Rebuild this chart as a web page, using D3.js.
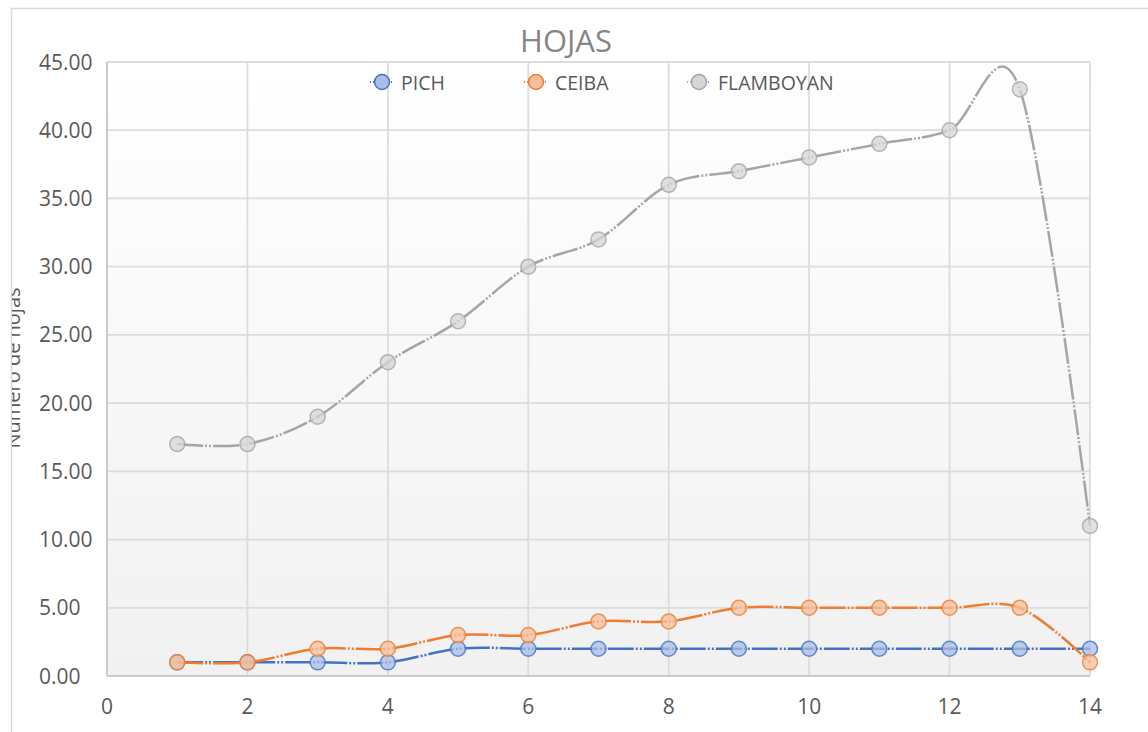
<!DOCTYPE html>
<html>
<head>
<meta charset="utf-8">
<script src="https://cdn.jsdelivr.net/npm/d3@7"></script>
<style>
  body { margin: 0; background: #ffffff; }
  svg { display: block; font-family: "Open Sans", sans-serif; }
</style>
</head>
<body>
<div id="graph"></div>
<script>
var days = [1, 2, 3, 4, 5, 6, 7, 8, 9, 10, 11, 12, 13, 14];
var pich = [1, 1, 1, 1, 2, 2, 2, 2, 2, 2, 2, 2, 2, 2];
var ceiba = [1, 1, 2, 2, 3, 3, 4, 4, 5, 5, 5, 5, 5, 1];
var flamboyan = [17, 17, 19, 23, 26, 30, 32, 36, 37, 38, 39, 40, 43, 11];
var xTicks = [0, 2, 4, 6, 8, 10, 12, 14];
var yTicks = [0, 5, 10, 15, 20, 25, 30, 35, 40, 45];

var series = [
    { name: "PICH", values: pich, color: "#4472C4", fill: "#a9bde6" },
    { name: "CEIBA", values: ceiba, color: "#ED7D31", fill: "#f6bf9b" },
    { name: "FLAMBOYAN", values: flamboyan, color: "#A5A5A5", fill: "#d6d6d6" }
];

var width = 1148, height = 732;
var plotLeft = 107, plotRight = 1090, plotTop = 62, plotBottom = 676;

var svg = d3.select("#graph")
    .append("svg")
    .attr("width", width)
    .attr("height", height);

// chart border
svg.append("rect")
    .attr("x", 11.5).attr("y", 8.5)
    .attr("width", width).attr("height", height)
    .attr("fill", "#ffffff")
    .attr("stroke", "#d9d9d9")
    .attr("stroke-width", 1.5);

var x = d3.scaleLinear().domain([0, 14]).range([plotLeft, plotRight]);
var y = d3.scaleLinear().domain([0, 45]).range([plotBottom, plotTop]);

// plot background gradient
var defs = svg.append("defs");
var grad = defs.append("linearGradient")
    .attr("id", "bg").attr("x1", 0).attr("y1", 0).attr("x2", 0).attr("y2", 1);
grad.append("stop").attr("offset", "0%").attr("stop-color", "#ffffff");
grad.append("stop").attr("offset", "100%").attr("stop-color", "#f1f1f1");

defs.append("clipPath").attr("id", "edge")
    .append("rect").attr("x", 12).attr("y", 0).attr("width", width).attr("height", height);

svg.append("rect")
    .attr("x", plotLeft).attr("y", plotTop)
    .attr("width", plotRight - plotLeft).attr("height", plotBottom - plotTop)
    .attr("fill", "url(#bg)");

// gridlines
svg.append("g").selectAll("line")
    .data(yTicks)
    .enter().append("line")
    .attr("x1", plotLeft).attr("x2", plotRight)
    .attr("y1", function(d) { return y(d); })
    .attr("y2", function(d) { return y(d); })
    .attr("stroke", "#dcdcdc")
    .attr("stroke-width", 1.8);

svg.append("g").selectAll("line")
    .data(xTicks)
    .enter().append("line")
    .attr("x1", function(d) { return x(d); })
    .attr("x2", function(d) { return x(d); })
    .attr("y1", plotTop).attr("y2", plotBottom)
    .attr("stroke", "#dcdcdc")
    .attr("stroke-width", 1.8);

// axis lines
svg.append("line")
    .attr("x1", plotLeft).attr("x2", plotLeft).attr("y1", plotTop).attr("y2", plotBottom)
    .attr("stroke", "#c4c4c4").attr("stroke-width", 1.5);
svg.append("line")
    .attr("x1", plotLeft).attr("x2", plotRight).attr("y1", plotBottom).attr("y2", plotBottom)
    .attr("stroke", "#c4c4c4").attr("stroke-width", 1.5);

// tick labels
svg.append("g").selectAll("text")
    .data(yTicks)
    .enter().append("text")
    .attr("x", 39)
    .attr("y", function(d) { return y(d) + 7.5; })
    .attr("font-size", 21)
    .attr("fill", "#595959")
    .text(function(d) { return d3.format(".2f")(d); });

svg.append("g").selectAll("text")
    .data(xTicks)
    .enter().append("text")
    .attr("x", function(d) { return x(d); })
    .attr("y", 714)
    .attr("text-anchor", "middle")
    .attr("font-size", 21)
    .attr("fill", "#595959")
    .text(function(d) { return d; });

// title
svg.append("text")
    .attr("x", 566).attr("y", 52)
    .attr("text-anchor", "middle")
    .attr("font-size", 31)
    .attr("fill", "#858585")
    .text("HOJAS");

// y axis title (cut by the chart edge)
svg.append("g")
    .attr("clip-path", "url(#edge)")
    .append("text")
    .attr("transform", "translate(20,368) rotate(-90)")
    .attr("text-anchor", "middle")
    .attr("font-size", 20)
    .attr("fill", "#595959")
    .text("Numero de hojas");

var line = d3.line()
    .x(function(d) { return x(d[0]); })
    .y(function(d) { return y(d[1]); })
    .curve(d3.curveCardinal.tension(0));

series.forEach(function(s) {
    var pts = days.map(function(d, i) { return [d, s.values[i]]; });
    svg.append("path")
        .datum(pts)
        .attr("d", line)
        .attr("fill", "none")
        .attr("stroke", s.color)
        .attr("stroke-width", 2.5)
        .attr("stroke-dasharray", "26 2 2 2 2 2");

    svg.append("g").selectAll("circle")
        .data(pts)
        .enter().append("circle")
        .attr("cx", function(d) { return x(d[0]); })
        .attr("cy", function(d) { return y(d[1]); })
        .attr("r", 7.5)
        .attr("fill", s.fill)
        .attr("fill-opacity", 0.75)
        .attr("stroke", s.color)
        .attr("stroke-opacity", 0.8)
        .attr("stroke-width", 1.5);
});

// legend
var legendX = [382, 536, 699];
var legend = svg.append("g").selectAll("g")
    .data(series)
    .enter().append("g")
    .attr("transform", function(d, i) { return "translate(" + legendX[i] + ",82)"; });

legend.append("line")
    .attr("x1", -12).attr("x2", 12)
    .attr("stroke", function(d) { return d.color; })
    .attr("stroke-width", 2)
    .attr("stroke-dasharray", "1 2");
legend.append("circle")
    .attr("r", 7.5)
    .attr("fill", function(d) { return d.fill; })
    .attr("stroke", function(d) { return d.color; })
    .attr("stroke-width", 1.5);
legend.append("text")
    .attr("x", 19).attr("y", 7.5)
    .attr("font-size", 19.5)
    .attr("fill", "#595959")
    .text(function(d) { return d.name; });
</script>
</body>
</html>
